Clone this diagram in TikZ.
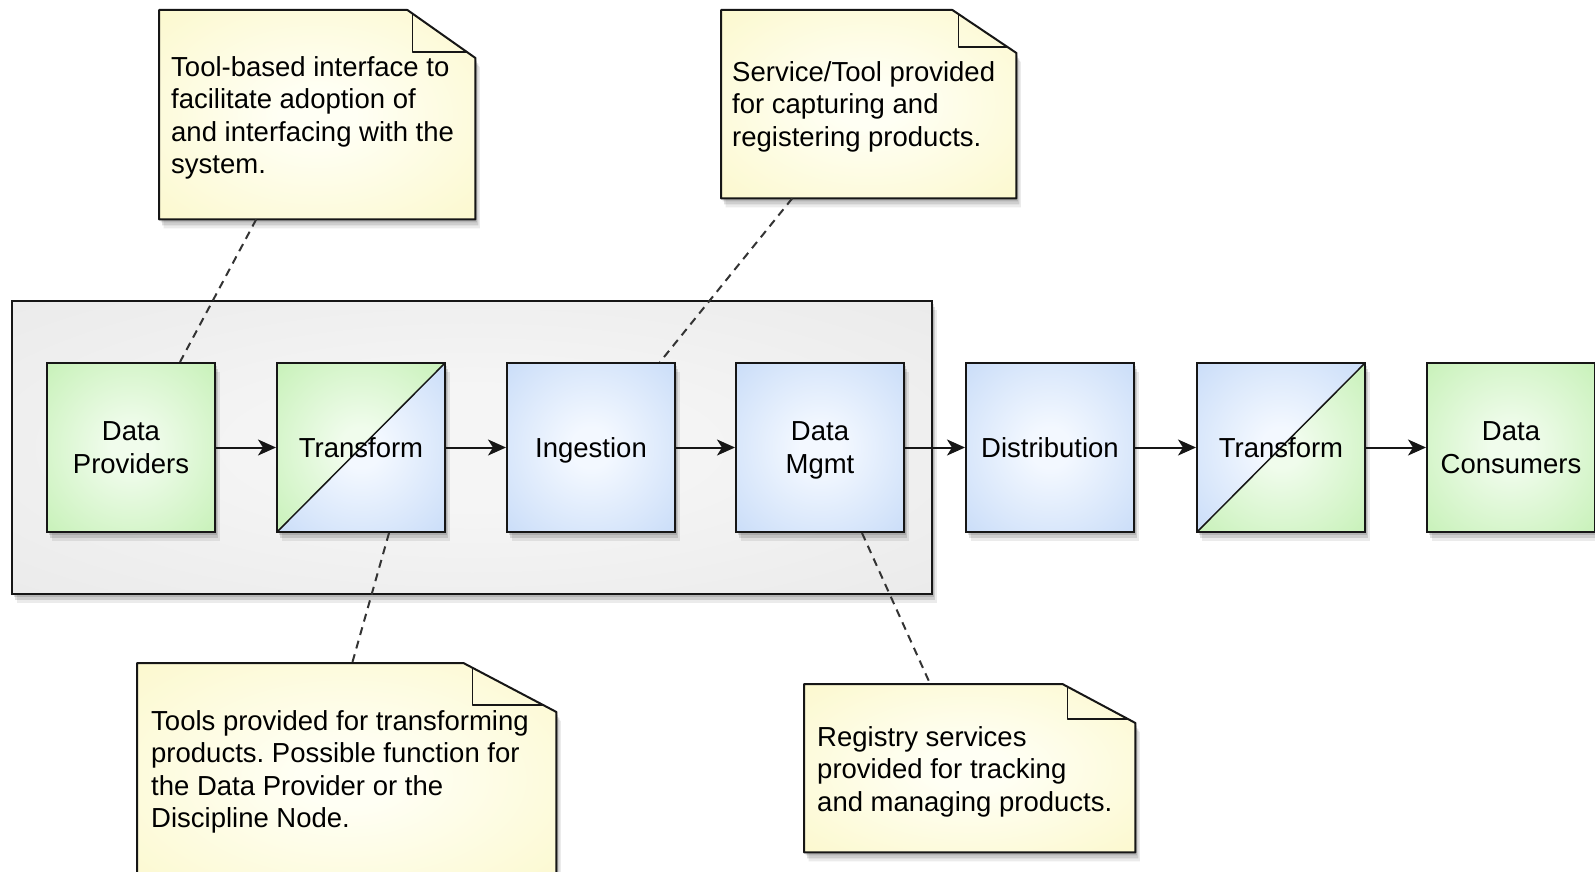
\documentclass[tikz,border=0pt]{standalone}
\usepackage{fontspec}
\setmainfont{Liberation Sans}
\frenchspacing
\usetikzlibrary{shadows,arrows.meta,calc}
\definecolor{greenO}{RGB}{180,236,160}
\definecolor{greenI}{RGB}{240,252,236}
\definecolor{blueO}{RGB}{182,208,245}
\definecolor{blueI}{RGB}{243,248,255}
\definecolor{yelO}{RGB}{250,245,188}
\definecolor{yelI}{RGB}{255,255,244}
\definecolor{grayO}{RGB}{229,229,229}
\definecolor{grayI}{RGB}{245,245,245}
\definecolor{edge}{RGB}{22,22,22}
\pgfdeclareradialshading{gsoft}{\pgfpoint{0bp}{0bp}}{color(0bp)=(greenI); color(6bp)=(greenI); color(50bp)=(greenO)}
\pgfdeclareradialshading{bsoft}{\pgfpoint{0bp}{0bp}}{color(0bp)=(blueI); color(6bp)=(blueI); color(50bp)=(blueO)}
\pgfdeclareradialshading{ysoft}{\pgfpoint{0bp}{0bp}}{color(0bp)=(yelI); color(6bp)=(yelI); color(50bp)=(yelO)}
\pgfdeclareradialshading{ksoft}{\pgfpoint{0bp}{0bp}}{color(0bp)=(grayI); color(10bp)=(grayI); color(50bp)=(grayO)}
\newcommand\notedecor[5]{%
  \pgfmathsetmacro\fvy{#3*(#2-#4)/#2}%
  \pgfmathsetmacro\fhx{#2*(1-#5/#3)}%
  \path[notefill] (#1.north west) -- ([xshift=-#2pt]#1.north east) -- ([yshift=-#3pt]#1.north east) -- (#1.south east) -- (#1.south west) -- cycle;
  \draw[notefold] ([xshift=-#4pt,yshift=-\fvy pt]#1.north east) -- ([xshift=-#4pt,yshift=-#5pt]#1.north east) -- ([xshift=-\fhx pt,yshift=-#5pt]#1.north east);
}
\tikzset{
  softshadow/.style={
    general shadow={fill=black, opacity=0.12, shadow xshift=1.5pt, shadow yshift=-3pt},
    general shadow={fill=black, opacity=0.12, shadow xshift=3pt, shadow yshift=-6pt},
    general shadow={fill=black, opacity=0.08, shadow xshift=4.5pt, shadow yshift=-9pt}},
  boxbase/.style={draw=edge, line width=2pt, minimum width=168pt, minimum height=169pt,
    inner sep=0pt, align=center, text depth=0pt, font=\fontsize{27.5pt}{32.5pt}\selectfont, softshadow},
  gbox/.style={boxbase, shade, shading=gsoft},
  bluebox/.style={boxbase, shade, shading=bsoft},
  tgb/.style={boxbase, shade, shading=bsoft,
    path picture={\fill[shading=gsoft] (path picture bounding box.south west) -- (path picture bounding box.north west) -- (path picture bounding box.north east) -- cycle;
      \draw[edge, line width=1.5pt] (path picture bounding box.south west) -- (path picture bounding box.north east);}},
  tbg/.style={boxbase, shade, shading=gsoft,
    path picture={\fill[shading=bsoft] (path picture bounding box.south west) -- (path picture bounding box.north west) -- (path picture bounding box.north east) -- cycle;
      \draw[edge, line width=1.5pt] (path picture bounding box.south west) -- (path picture bounding box.north east);}},
  container/.style={draw=edge, line width=2pt, shade, shading=ksoft, softshadow, inner sep=0pt},
  notefill/.style={draw=edge, line width=2pt, shade, shading=ysoft, softshadow, line join=round},
  notefold/.style={draw=edge, line width=1.6pt, line join=round},
  noteframe/.style={draw=none, fill=none, inner sep=0pt, anchor=north west},
  notetext/.style={anchor=north west, inner sep=0pt, align=left, font=\fontsize{27.5pt}{32.5pt}\selectfont},
  arr/.style={draw=edge, line width=2pt, -{Stealth[length=18pt,width=16pt,inset=5pt]}},
  dashline/.style={draw=black!80, line width=2pt, dash pattern=on 8pt off 6pt}
}
\begin{document}
\begin{tikzpicture}[x=1pt,y=-1pt]
\useasboundingbox (0,0) rectangle (1595,872);
\fill[white] (0,0) rectangle (1595,872);

% system container
\node[container, minimum width=920pt, minimum height=293pt] (sys) at (472,447.5) {};

% notes
\node[noteframe, minimum width=316pt, minimum height=209pt] (n1) at (159,10) {};
\notedecor{n1}{68}{48}{63}{42}
\node[notetext] (n1t) at ([xshift=12pt,yshift=-46pt]n1.north west) {Tool-based interface to\\facilitate adoption of\\and interfacing with the\\system.};

\node[noteframe, minimum width=295pt, minimum height=188pt] (n2) at (721,10) {};
\notedecor{n2}{64}{43}{58}{37}
\node[notetext] (n2t) at ([xshift=11pt,yshift=-51pt]n2.north west) {Service/Tool provided\\for capturing and\\registering products.};

\node[noteframe, minimum width=419pt, minimum height=230pt] (n3) at (137,663) {};
\notedecor{n3}{93}{49}{84}{42}
\node[notetext] (n3t) at ([xshift=14pt,yshift=-47pt]n3.north west) {Tools provided for transforming\\products. Possible function for\\the Data Provider or the\\Discipline Node.};

\node[noteframe, minimum width=331pt, minimum height=168pt] (n4) at (804,684) {};
\notedecor{n4}{73}{39}{68}{35}
\node[notetext] (n4t) at ([xshift=13pt,yshift=-42pt]n4.north west) {Registry services\\provided for tracking\\and managing products.};

% process boxes
\node[gbox] (dp) at (131,447.5) {Data\\Providers};
\node[tgb] (t1) at (361,447.5) {Transform};
\node[bluebox] (ing) at (591,447.5) {Ingestion};
\node[bluebox] (dm) at (820,447.5) {Data\\Mgmt};
\node[bluebox] (dist) at (1050,447.5) {Distribution};
\node[tbg] (t2) at (1281,447.5) {Transform};
\node[gbox] (dc) at (1511,447.5) {Data\\Consumers};

% flow arrows
\draw[arr] (dp) -- (t1);
\draw[arr] (t1) -- (ing);
\draw[arr] (ing) -- (dm);
\draw[arr] (dm) -- (dist);
\draw[arr] (dist) -- (t2);
\draw[arr] (t2) -- (dc);

% note connectors
\draw[dashline] ([xshift=-61pt]n1.south) -- ([xshift=49pt]dp.north);
\draw[dashline] ([xshift=-76.5pt]n2.south) -- ([xshift=69pt]ing.north);
\draw[dashline] ([xshift=28pt]t1.south) -- ([xshift=5.5pt]n3.north);
\draw[dashline] ([xshift=42pt]dm.south) -- ([xshift=-39.5pt]n4.north);
\end{tikzpicture}
\end{document}
